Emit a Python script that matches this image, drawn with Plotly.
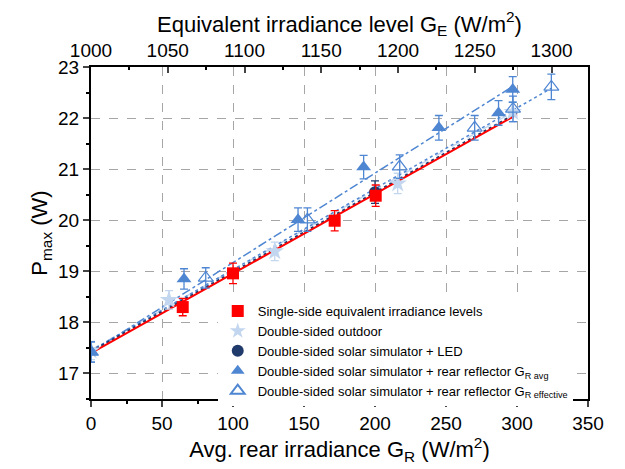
import plotly.graph_objects as go

# ---- data ----
single_x = [64.6, 100, 171.6, 200.5]
single_y = [18.30, 18.96, 19.99, 20.48]
single_err = [0.17, 0.2, 0.2, 0.21]

outdoor_x = [0, 54.9, 129.4, 216, 297]
outdoor_y = [17.45, 18.44, 19.39, 20.72, 22.12]
outdoor_err = [0.18, 0.18, 0.18, 0.2, 0.2]

led_x = [200]
led_y = [20.55]
led_err = [0.22]

avg_x = [0, 65.5, 145.8, 192, 245, 287, 297]
avg_y = [17.42, 18.85, 20.01, 21.04, 21.81, 22.10, 22.56]
avg_err = [0.2, 0.2, 0.23, 0.23, 0.24, 0.24, 0.25]

eff_x = [0, 80.8, 152.4, 217.4, 270.2, 297.2, 324.2]
eff_y = [17.42, 18.87, 20.01, 21.05, 21.81, 22.18, 22.61]
eff_err = [0.2, 0.2, 0.23, 0.23, 0.24, 0.25, 0.25]

# linear fits (end points)
fit_single_x = [0, 300];   fit_single_y = [17.40, 22.07]
fit_led_x = [0, 300];      fit_led_y = [17.43, 22.10]
fit_outdoor_x = [0, 300];  fit_outdoor_y = [17.46, 22.16]
fit_avg_x = [0, 297];      fit_avg_y = [17.42, 22.62]
fit_eff_x = [0, 324];      fit_eff_y = [17.45, 22.58]

x_ticks = [0, 50, 100, 150, 200, 250, 300, 350]
top_ticks = [1000, 1050, 1100, 1150, 1200, 1250, 1300]
y_ticks = [17, 18, 19, 20, 21, 22, 23]

RED = "#ff0000"
LIGHT = "#c3d6ef"
NAVY = "#1f3a6b"
MED = "#4f86d2"

fig = go.Figure()

# fit lines
fig.add_trace(go.Scatter(x=fit_outdoor_x, y=fit_outdoor_y, mode="lines",
                         line=dict(color=LIGHT, width=1.5, dash="dash"), showlegend=False))
fig.add_trace(go.Scatter(x=fit_eff_x, y=fit_eff_y, mode="lines",
                         line=dict(color=MED, width=1.5, dash="dot"), showlegend=False))
fig.add_trace(go.Scatter(x=fit_avg_x, y=fit_avg_y, mode="lines",
                         line=dict(color=MED, width=1.5, dash="dashdot"), showlegend=False))
fig.add_trace(go.Scatter(x=fit_led_x, y=fit_led_y, mode="lines",
                         line=dict(color=NAVY, width=2, dash="dot"), showlegend=False))
fig.add_trace(go.Scatter(x=fit_single_x, y=fit_single_y, mode="lines",
                         line=dict(color=RED, width=2), showlegend=False))

def eb(arr, color):
    return dict(type="data", array=arr, visible=True, color=color, thickness=1.3, width=4)

fig.add_trace(go.Scatter(x=outdoor_x, y=outdoor_y, mode="markers", name="Double-sided outdoor",
                         legendrank=2,
                         marker=dict(symbol="star", size=14, color=LIGHT),
                         error_y=eb(outdoor_err, LIGHT)))
fig.add_trace(go.Scatter(x=eff_x, y=eff_y, mode="markers", legendrank=5,
                         name="Double-sided solar simulator + rear reflector G<sub>R effective</sub>",
                         marker=dict(symbol="triangle-up-open", size=13, color=MED, line=dict(width=1.2)),
                         error_y=eb(eff_err, MED)))
fig.add_trace(go.Scatter(x=avg_x, y=avg_y, mode="markers", legendrank=4,
                         name="Double-sided solar simulator + rear reflector G<sub>R avg</sub>",
                         marker=dict(symbol="triangle-up", size=13, color=MED),
                         error_y=eb(avg_err, MED)))
fig.add_trace(go.Scatter(x=led_x, y=led_y, mode="markers", name="Double-sided solar simulator + LED",
                         legendrank=3,
                         marker=dict(symbol="circle", size=12, color=NAVY),
                         error_y=eb(led_err, NAVY)))
fig.add_trace(go.Scatter(x=single_x, y=single_y, mode="markers", legendrank=1,
                         name="Single-side equivalent irradiance levels",
                         marker=dict(symbol="square", size=12, color=RED),
                         error_y=eb(single_err, RED)))

# invisible trace to activate top axis
fig.add_trace(go.Scatter(x=[1000], y=[None], xaxis="x2", yaxis="y", showlegend=False,
                         hoverinfo="skip", mode="markers"))

FONT = "Liberation Sans, Arial, sans-serif"

fig.update_layout(
    width=625, height=469,
    margin=dict(l=91, r=37, t=67, b=70),
    paper_bgcolor="white", plot_bgcolor="white",
    font=dict(family=FONT, color="#000000"),
    showlegend=True,
    legend=dict(x=0.255, y=0.31, xanchor="left", yanchor="top",
                bgcolor="white", borderwidth=0, font=dict(size=13, family=FONT),
                traceorder="normal", tracegroupgap=0, itemsizing="constant"),
    xaxis=dict(range=[0, 350], tickvals=x_ticks, ticks="outside", ticklen=6, tickwidth=1.5,
               showline=True, linecolor="black", linewidth=2, mirror=False,
               showgrid=True, gridcolor="#a6a6a6", griddash="dash", gridwidth=1,
               zeroline=False, tickfont=dict(size=19),
               minor=dict(tickvals=[25, 75, 125, 175, 225, 275, 325], ticks="outside",
                          ticklen=3, tickcolor="black", showgrid=False),
               title=dict(text="Avg. rear irradiance G<sub>R</sub> (W/m<sup>2</sup>)",
                          font=dict(size=22), standoff=2)),
    xaxis2=dict(range=[1000, 1323.75], overlaying="x", side="top", tickvals=top_ticks,
                ticks="inside", ticklen=6, tickwidth=1.5, showline=True, linecolor="black",
                linewidth=2, showgrid=False, zeroline=False, tickfont=dict(size=19),
                minor=dict(tickvals=[1025, 1075, 1125, 1175, 1225, 1275, 1300 + 0], ticks="inside",
                           ticklen=3, tickcolor="black", showgrid=False),
                title=dict(text="Equivalent irradiance level G<sub>E</sub> (W/m<sup>2</sup>)",
                           font=dict(size=22), standoff=2)),
    yaxis=dict(range=[16.5, 23], tickvals=y_ticks, ticks="outside", ticklen=6, tickwidth=1.5,
               showline=True, linecolor="black", linewidth=2, mirror=True,
               showgrid=True, gridcolor="#a6a6a6", griddash="dash", gridwidth=1,
               zeroline=False, tickfont=dict(size=19),
               minor=dict(tickvals=[16.5, 17.5, 18.5, 19.5, 20.5, 21.5, 22.5], ticks="outside",
                          ticklen=3, tickcolor="black", showgrid=False),
               title=dict(text="P<sub>max</sub> (W)", font=dict(size=22), standoff=4)),
)

fig.write_html("out.html")
